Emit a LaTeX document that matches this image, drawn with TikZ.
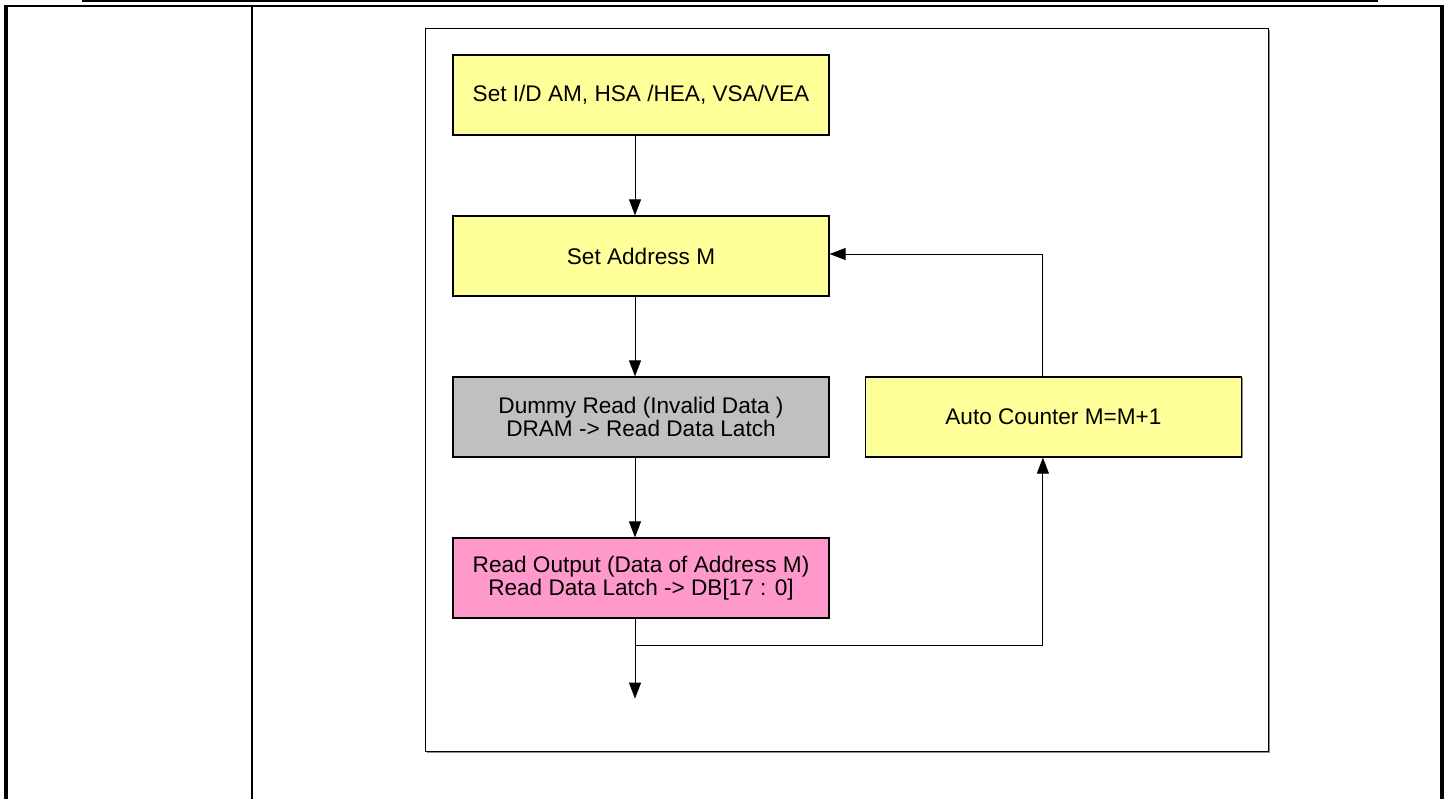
\documentclass[tikz,border=0pt]{standalone}
\usepackage{fontspec}
\setmainfont{Liberation Sans}
\usetikzlibrary{positioning}
\usetikzlibrary{arrows.meta}
\usetikzlibrary{shadows}

\definecolor{stepyellow}{HTML}{FFFF99}
\definecolor{dummygray}{HTML}{C0C0C0}
\definecolor{outpink}{HTML}{FF99CC}

\tikzset{
    stepbox/.style={draw, line width=0.6pt, minimum width=188pt, minimum height=40pt,
        inner sep=0pt, align=center, font=\fontsize{11.3}{11.5}\selectfont,
        drop shadow={shadow xshift=0.7pt, shadow yshift=-0.7pt, fill=black, opacity=0.45}},
    flow/.style={-{Triangle[length=8pt,width=6pt]}, line width=0.5pt},
}

\begin{document}
\begin{tikzpicture}[x=0.5pt, y=-0.5pt]
    \useasboundingbox (0,0) rectangle (1451,799);

    % table frame
    \draw[line width=0.6pt] (82,1) -- (1378,1);
    \draw[line width=1pt] (4,6) -- (1444,6);
    \draw[line width=2pt] (6,6) -- (6,799);
    \draw[line width=1pt] (252,6) -- (252,799);
    \draw[line width=2pt] (1442,6) -- (1442,799);

    % figure frame
    \draw[line width=0.6pt, drop shadow={shadow xshift=0.7pt, shadow yshift=-0.7pt, fill=black, opacity=0.45}, fill=white]
        (425.5,28.5) rectangle (1268.5,751.5);

    \node[stepbox, fill=stepyellow] (setup) at (641,95) {Set I/D AM, HSA /HEA, VSA/VEA};
    \node[stepbox, fill=stepyellow, below=39.9pt of setup] (addr) {Set Address M};
    \node[stepbox, fill=dummygray, below=39.9pt of addr] (dummy) {Dummy Read (Invalid Data )\\DRAM -> Read Data Latch};
    \node[stepbox, fill=outpink, below=39.9pt of dummy] (rdout) {Read Output (Data of Address M)\\Read Data Latch -> DB[17 : 0]};
    \node[stepbox, fill=stepyellow, right=17.6pt of dummy] (counter) {Auto Counter M=M+1};

    \coordinate (split) at ([xshift=-3pt, yshift=-13.5pt]rdout.south);
    \coordinate (next) at ([xshift=-3pt, yshift=-40pt]rdout.south);

    \draw[flow] ([xshift=-3pt]setup.south) -- ([xshift=-3pt]addr.north);
    \draw[flow] ([xshift=-3pt]addr.south) -- ([xshift=-3pt]dummy.north);
    \draw[flow] ([xshift=-3pt]dummy.south) -- ([xshift=-3pt]rdout.north);
    \draw[flow] ([xshift=-3pt]rdout.south) -- (next);
    \draw[flow] (split) -| ([xshift=-5.25pt]counter.south);
    \draw[flow] ([xshift=-5.25pt]counter.north) |- ([yshift=1pt]addr.east);
\end{tikzpicture}
\end{document}
